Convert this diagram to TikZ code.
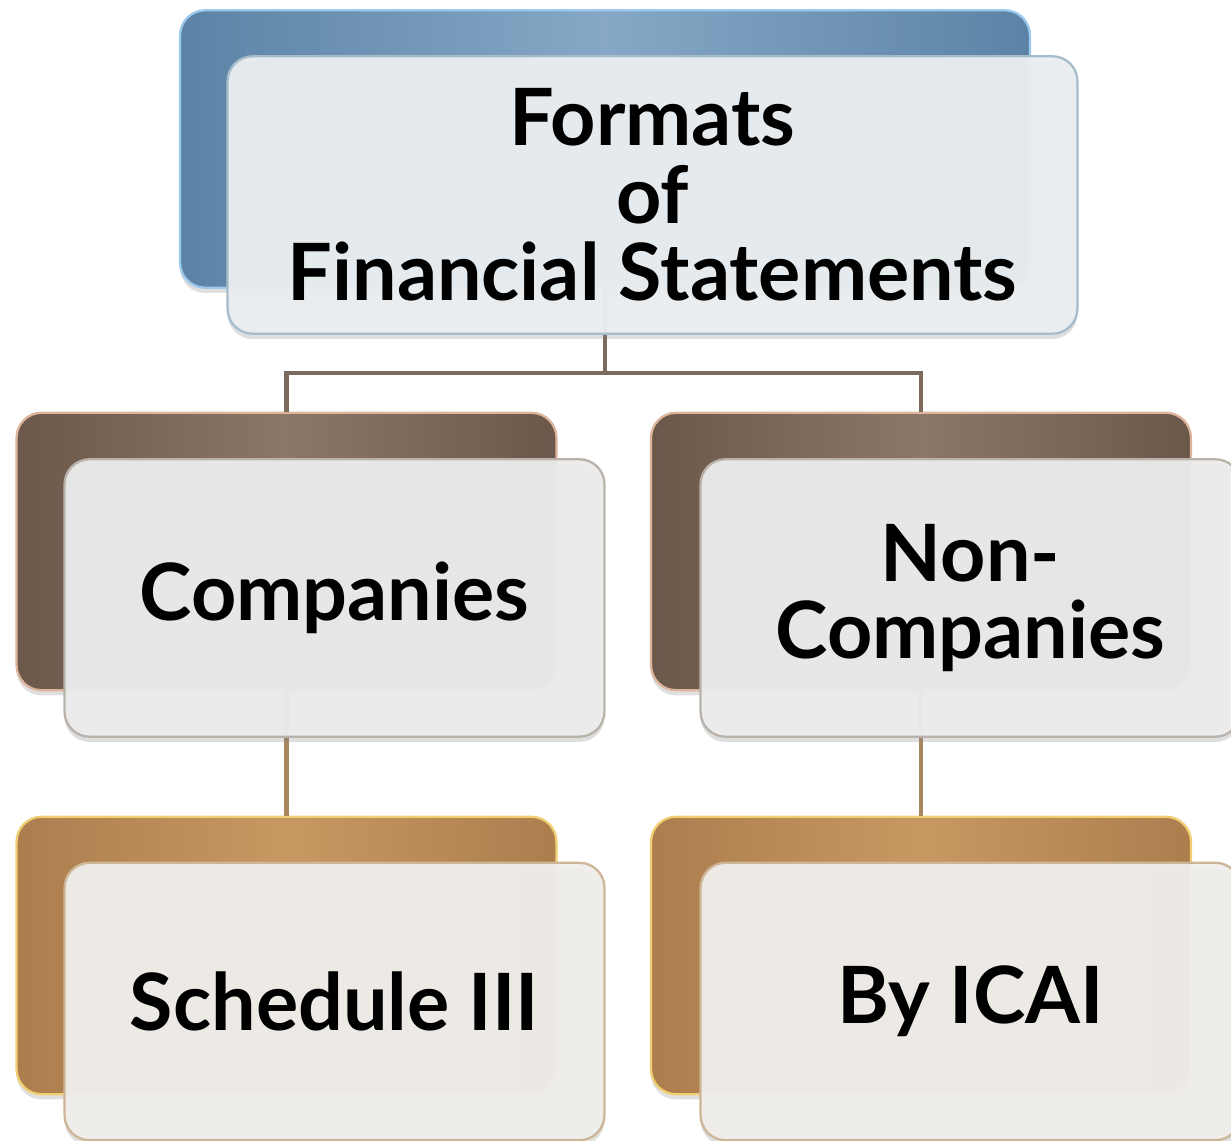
\documentclass[tikz,border=0pt]{standalone}
\usepackage{fontspec}
\setmainfont{Lato}
\usetikzlibrary{positioning,shadows}

\definecolor{blueedge}{HTML}{5C83A6}
\definecolor{bluemid}{HTML}{86A8C6}
\definecolor{bluerim}{HTML}{9CCAEC}
\definecolor{brownedge}{HTML}{6C584A}
\definecolor{brownmid}{HTML}{8C7767}
\definecolor{brownrim}{HTML}{DDB49C}
\definecolor{tanedge}{HTML}{AC7E4E}
\definecolor{tanmid}{HTML}{C89862}
\definecolor{tanrim}{HTML}{F0CF72}
\definecolor{frontblue}{HTML}{EAEEF1}
\definecolor{frontgray}{HTML}{ECECEC}
\definecolor{fronttan}{HTML}{F0EEEB}
\definecolor{frontrimblue}{HTML}{A6BCCB}
\definecolor{frontrimgray}{HTML}{B9B2AB}
\definecolor{frontrimtan}{HTML}{CDB597}
\definecolor{linkbrown}{HTML}{7B6A5D}
\definecolor{linktan}{HTML}{A8865E}

\tikzset{
  base/.style={rounded corners=0.5cm, minimum width=10.8cm, minimum height=5.55cm, line width=1.3pt},
  backbox/.style={base, draw=#1rim, left color=#1edge, right color=#1edge, middle color=#1mid,
    drop shadow={shadow xshift=0pt, shadow yshift=-3pt, opacity=0.25}},
  frontbox/.style={base, draw=frontrim#1, fill=front#1, fill opacity=0.96, text opacity=1,
    align=center, font=\fontsize{45}{44}\selectfont\bfseries,
    drop shadow={shadow xshift=0pt, shadow yshift=-3pt, opacity=0.25}},
  link/.style={draw=#1, line width=2.4pt}
}

\begin{document}
\begin{tikzpicture}[x=0.02cm, y=-0.02cm]
  \useasboundingbox (0,0) rectangle (1231,1141);

  % back boxes
  \node[backbox=blue, minimum width=17cm] (topback) at (605,149) {};
  \node[backbox=brown] (compback) at (286.5,551.5) {};
  \node[backbox=brown] (noncback) at (921,551.5) {};
  \node[backbox=tan] (schback) at (286.5,955.5) {};
  \node[backbox=tan] (icaiback) at (921,955.5) {};

  % connectors
  \coordinate (split) at (605,373);
  \draw[link=linkbrown] (topback.south) -- (split) -| (compback.north);
  \draw[link=linkbrown] (split) -| (noncback.north);
  \draw[link=linktan] (compback.south) -- (schback.north);
  \draw[link=linktan] (noncback.south) -- (icaiback.north);

  % front boxes
  \node[frontbox=blue, minimum width=17cm] (topfront) at (652.5,195)
    {Formats\\of\\Financial Statements};
  \node[frontbox=gray] (compfront) at (334.5,598) {Companies};
  \node[frontbox=gray] (noncfront) at (970.5,598) {Non-\\Companies};
  \node[frontbox=tan] (schfront) at (334.5,1001.5) {Schedule III};
  \node[frontbox=tan] (icaifront) at (970.5,1001.5) {By ICAI};
\end{tikzpicture}
\end{document}
